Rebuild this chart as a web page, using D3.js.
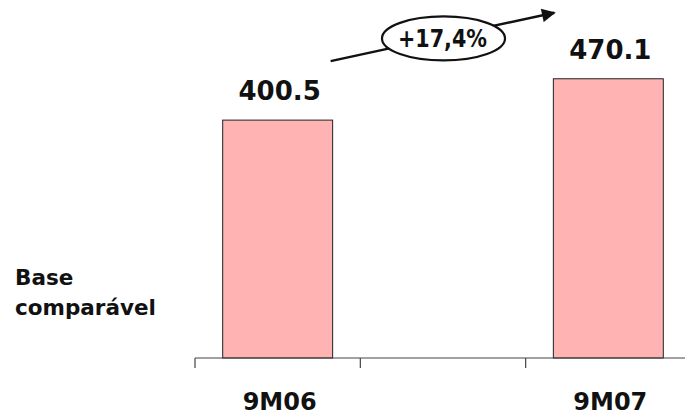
<!DOCTYPE html>
<html><head><meta charset="utf-8">
<script src="https://cdn.jsdelivr.net/npm/d3@7/dist/d3.min.js"></script>
<style>body{margin:0;background:#fff}svg{display:block}</style>
</head><body>
<svg id="c" width="685" height="417"></svg>
<script>
const categories = ["9M06", "", "9M07"];
const values = [400.5, null, 470.1];
const valueLabels = ["400.5", "", "470.1"];
const growthLabel = "+17,4%";
const sideLabel = ["Base", "comparável"];

const svg = d3.select("#c");
const font = "'DejaVu Sans', Verdana, sans-serif";
const x = d3.scaleBand().domain(categories).range([195, 691]).padding(0);
const y = d3.scaleLinear().domain([0, 600]).range([358, 1.6]);
const barW = x.bandwidth() * 0.665;

// bars
const data = categories.map((c, i) => ({c, v: values[i], l: valueLabels[i]})).filter(d => d.v != null);
svg.selectAll("rect.bar").data(data).join("rect")
  .attr("x", d => x(d.c) + (x.bandwidth() - barW) / 2)
  .attr("y", d => y(d.v))
  .attr("width", barW)
  .attr("height", d => y(0) - y(d.v))
  .attr("fill", "#ffb3b3")
  .attr("stroke", "#222")
  .attr("stroke-width", 1);

// axis
const ax = svg.append("g").attr("stroke", "#444").attr("stroke-width", 1.2);
ax.append("line").attr("x1", 195).attr("x2", 685).attr("y1", y(0)).attr("y2", y(0));
const bounds = categories.map(c => x(c)).concat([x.range()[1]]);
ax.selectAll("line.t").data(bounds).join("line")
  .attr("x1", d => d).attr("x2", d => d).attr("y1", y(0)).attr("y2", y(0) + 10);

// category labels
svg.selectAll("text.cat").data(categories.filter(c => c)).join("text")
  .attr("x", d => x(d) + x.bandwidth() / 2 + 2)
  .attr("y", 410)
  .attr("text-anchor", "middle")
  .attr("font-family", font).attr("font-weight", "bold").attr("font-size", 24)
  .attr("fill", "#111")
  .text(d => d);

// value labels
svg.selectAll("text.val").data(data).join("text")
  .attr("x", d => x(d.c) + x.bandwidth() / 2 + 2)
  .attr("y", d => y(d.v) - 20)
  .attr("text-anchor", "middle")
  .attr("font-family", font).attr("font-weight", "bold").attr("font-size", 26)
  .attr("fill", "#111")
  .text(d => d.l);

// side label
svg.append("text")
  .attr("font-family", font).attr("font-weight", "bold").attr("font-size", 21.5)
  .attr("fill", "#111")
  .selectAll("tspan").data(sideLabel).join("tspan")
  .attr("x", 15).attr("y", (d, i) => 285 + i * 30)
  .text(d => d);

// growth arrow
const d0 = data[0], d1 = data[1];
const x0 = x(d0.c) + (x.bandwidth() + barW) / 2 - 2, y0 = y(d0.v) - 59;
const x1 = x(d1.c) + (x.bandwidth() - barW) / 2 + 1, y1 = y(d1.v) - 66;
svg.append("defs").append("marker").attr("id", "ah")
  .attr("viewBox", "0 0 10 10").attr("refX", 9).attr("refY", 5)
  .attr("markerWidth", 6.5).attr("markerHeight", 5.5).attr("orient", "auto")
  .attr("markerUnits", "strokeWidth")
  .append("path").attr("d", "M0,0L10,5L0,10Z").attr("fill", "#111");
svg.append("line").attr("x1", x0).attr("y1", y0).attr("x2", x1).attr("y2", y1)
  .attr("stroke", "#111").attr("stroke-width", 2.5).attr("marker-end", "url(#ah)");
const cx = (x0 + x1) / 2 + 1, cy = (y0 + y1) / 2 + 1.5;
svg.append("ellipse").attr("cx", cx).attr("cy", cy).attr("rx", 61.5).attr("ry", 22)
  .attr("fill", "#fff").attr("stroke", "#111").attr("stroke-width", 2.2);
svg.append("text").attr("x", cx - 1).attr("y", cy + 9)
  .attr("text-anchor", "middle")
  .attr("textLength", 89).attr("lengthAdjust", "spacingAndGlyphs")
  .attr("font-family", font).attr("font-weight", "bold").attr("font-size", 24)
  .attr("fill", "#111").text(growthLabel);
</script>
</body></html>
